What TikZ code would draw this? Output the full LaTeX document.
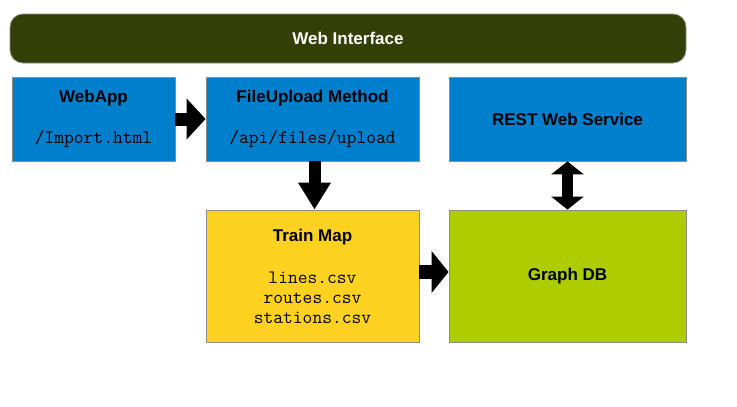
\documentclass[tikz,border=0pt]{standalone}
\usepackage{fontspec}
\setmainfont{Liberation Sans}
\usetikzlibrary{arrows.meta}
\definecolor{webolive}{RGB}{51,63,5}
\definecolor{boxblue}{RGB}{0,128,204}
\definecolor{mapyellow}{RGB}{253,209,31}
\definecolor{dblime}{RGB}{174,205,0}
\definecolor{edgegray}{RGB}{140,140,140}
\newcommand\filefont{\fontsize{19}{19}\selectfont\mdseries\ttfamily}
\begin{document}
\begin{tikzpicture}[x=1pt,y=-1pt,
    box/.style={draw=edgegray,line width=0.8pt,align=center,inner sep=0pt,
                font=\fontsize{17}{20}\selectfont\bfseries},
    blockarrow/.style={line width=13pt,-{Triangle[length=19pt,width=40pt]}}]
    \useasboundingbox (0,0) rectangle (737,407);
    \node (webui) at (348,38.5) [box,fill=webolive,text=white,rounded corners=13pt,
        minimum width=676pt,minimum height=49pt] {Web Interface};
    \node (webapp) at (93.5,119) [box,fill=boxblue,minimum width=163pt,minimum height=84pt]
        {WebApp\\[21pt]{\filefont /Import.html}};
    \node (upload) at (312.5,119) [box,fill=boxblue,minimum width=213pt,minimum height=84pt]
        {FileUpload Method\\[21pt]{\filefont /api/files/upload}};
    \node (rest) at (567.5,119) [box,fill=boxblue,minimum width=237pt,minimum height=84pt]
        {REST Web Service};
    \node (trainmap) at (312.5,276) [box,fill=mapyellow,minimum width=213pt,minimum height=132pt]
        {Train Map\\[22pt]{\filefont lines.csv}\\{\filefont routes.csv}\\{\filefont stations.csv}};
    \node (graphdb) at (567.5,276) [box,fill=dblime,minimum width=237pt,minimum height=132pt]
        {Graph DB};
    \draw[blockarrow] (webapp.east) -- (upload.west);
    \draw[blockarrow,line width=12pt,-{Triangle[length=27pt,width=31pt]}]
        ([xshift=2pt]upload.south) -- ([xshift=2pt]trainmap.north);
    \draw[blockarrow,line width=14pt,-{Triangle[length=17pt,width=41pt]}]
        ([yshift=4pt]trainmap.east) -- ([yshift=4pt]graphdb.west);
    \draw[line width=11pt,{Triangle[length=13pt,width=32pt]}-{Triangle[length=13pt,width=32pt]}]
        (rest.south) -- (graphdb.north);
\end{tikzpicture}
\end{document}
